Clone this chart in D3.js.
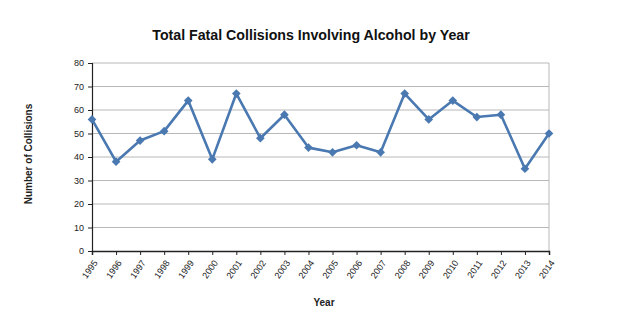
<!DOCTYPE html>
<html><head><meta charset="utf-8">
<script src="https://cdn.jsdelivr.net/npm/d3@7"></script>
<style>body{margin:0;background:#fff;}svg{display:block;font-family:"Liberation Sans",Arial,sans-serif;}</style>
</head><body><svg id="c" width="620" height="328"></svg>
<script>
const years = ["1995","1996","1997","1998","1999","2000","2001","2002","2003","2004","2005","2006","2007","2008","2009","2010","2011","2012","2013","2014"];
const collisions = [56,38,47,51,64,39,67,48,58,44,42,45,42,67,56,64,57,58,35,50];
const yTicks = [0,10,20,30,40,50,60,70,80];

const svg = d3.select("#c");
const L = 92, R = 549, T = 63, B = 251;
const x = d3.scalePoint().domain(years).range([L, R]);
const y = d3.scaleLinear().domain([0, 80]).range([B, T]);

// gridlines
svg.append("g").selectAll("line").data(yTicks.filter(d => d > 0)).join("line")
  .attr("x1", L).attr("x2", R).attr("y1", d => y(d)).attr("y2", d => y(d))
  .attr("stroke", "#b8b8b8").attr("stroke-width", 1);
// right border
svg.append("line").attr("x1", R).attr("x2", R).attr("y1", T).attr("y2", B)
  .attr("stroke", "#b8b8b8").attr("stroke-width", 1);

// y axis
const ya = svg.append("g").attr("transform", `translate(${L},0)`)
  .call(d3.axisLeft(y).tickValues(yTicks).tickSize(4).tickPadding(4));
ya.select(".domain").attr("stroke", "#222").attr("stroke-width", 1.2);
ya.selectAll(".tick line").attr("stroke", "#222");
ya.selectAll("text").attr("font-size", 9).attr("fill", "#222").attr("font-family", "Liberation Sans, Arial, sans-serif");

// x axis
const xa = svg.append("g").attr("transform", `translate(0,${B})`)
  .call(d3.axisBottom(x).tickSize(4).tickPadding(3));
xa.select(".domain").attr("stroke", "#222").attr("stroke-width", 1.5);
xa.selectAll(".tick line").attr("stroke", "#222");
xa.selectAll("text").attr("font-size", 9).attr("fill", "#222")
  .attr("font-family", "Liberation Sans, Arial, sans-serif")
  .attr("text-anchor", "end").attr("x", 0).attr("y", 0).attr("dy", "0.35em")
  .attr("transform", "translate(3,10) rotate(-55)");

// line
svg.append("path").datum(collisions)
  .attr("fill", "none").attr("stroke", "#4a78b0").attr("stroke-width", 2.6)
  .attr("stroke-linejoin", "round")
  .attr("d", d3.line().x((d, i) => x(years[i])).y(d => y(d)));

// diamond markers
svg.append("g").selectAll("path").data(collisions).join("path")
  .attr("d", d3.symbol().type(d3.symbolDiamond2).size(48))
  .attr("transform", (d, i) => `translate(${x(years[i])},${y(d)})`)
  .attr("fill", "#4a78b0");

// titles
svg.append("text").attr("x", 311).attr("y", 40).attr("text-anchor", "middle")
  .attr("font-size", 14.2).attr("font-weight", "bold").attr("fill", "#111")
  .text("Total Fatal Collisions Involving Alcohol by Year");
svg.append("text").attr("x", 324).attr("y", 306).attr("text-anchor", "middle")
  .attr("font-size", 10).attr("font-weight", "bold").attr("fill", "#222")
  .text("Year");
svg.append("text").attr("transform", "translate(32,154) rotate(-90)").attr("text-anchor", "middle")
  .attr("font-size", 10).attr("font-weight", "bold").attr("fill", "#222")
  .text("Number of Collisions");
</script></body></html>
